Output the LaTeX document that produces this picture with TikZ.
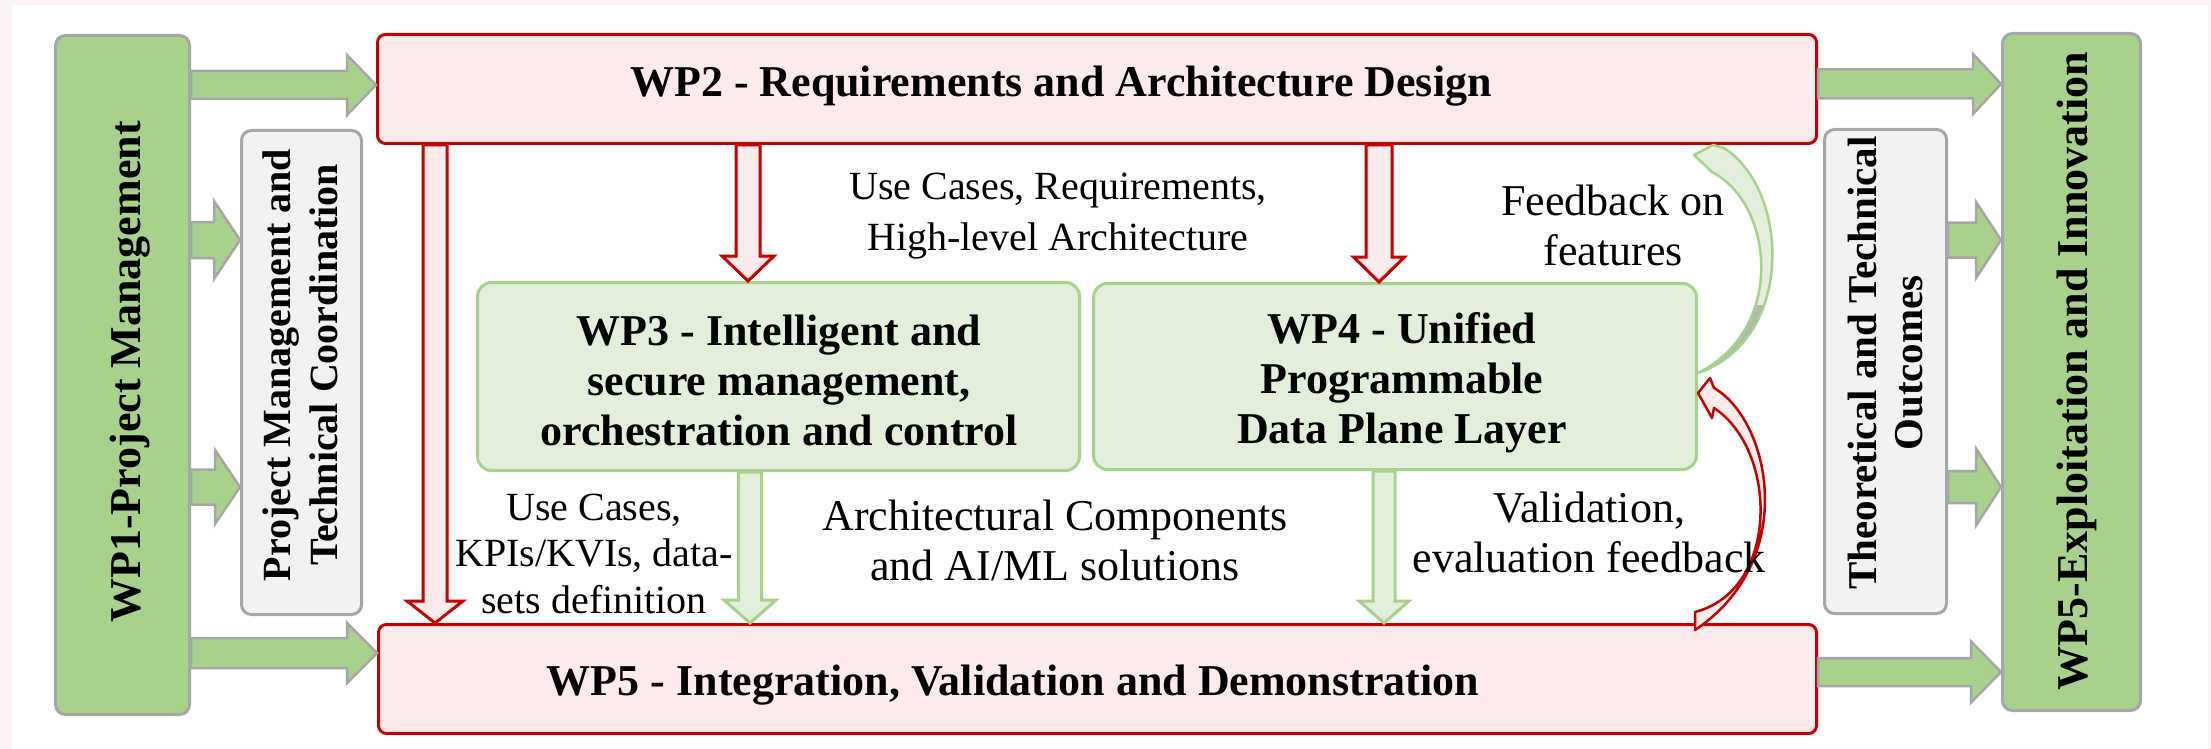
\documentclass[tikz,border=0pt]{standalone}
\usepackage{fontspec}
\setmainfont{Liberation Serif}
\usetikzlibrary{calc}
\definecolor{bgout}{HTML}{FAF5F4}
\definecolor{gfill}{HTML}{A9D18E}
\definecolor{gline}{HTML}{A6A6A6}
\definecolor{greyfill}{HTML}{F2F2F2}
\definecolor{redline}{HTML}{C00000}
\definecolor{pinkfill}{HTML}{FDEAEA}
\definecolor{lgfill}{HTML}{E2EFDA}
\definecolor{lgline}{HTML}{A9D18E}
\definecolor{shadeg}{HTML}{B3B8AE}
% horizontal block arrow: style, from, to, half shaft, half head, head length
\newcommand{\hblock}[6]{%
  \path[#1] let \p1=(#2), \p2=(#3) in
    (\x1,\y1+#4) -- (\x2-#6,\y1+#4) -- (\x2-#6,\y1+#5) -- (\x2,\y1)
    -- (\x2-#6,\y1-#5) -- (\x2-#6,\y1-#4) -- (\x1,\y1-#4) -- cycle;}
% downward block arrow
\newcommand{\vblock}[6]{%
  \path[#1] let \p1=(#2), \p2=(#3) in
    (\x1-#4,\y1) -- (\x1-#4,\y2+#6) -- (\x1-#5,\y2+#6) -- (\x1,\y2)
    -- (\x1+#5,\y2+#6) -- (\x1+#4,\y2+#6) -- (\x1+#4,\y1) -- cycle;}
\begin{document}
\begin{tikzpicture}[x=1pt,y=-1pt,
  box/.style={draw, line width=3pt, rounded corners=10pt, inner sep=0pt, anchor=north west},
  greenbox/.style={box, fill=gfill, draw=gline},
  greybox/.style={box, fill=greyfill, draw=gline},
  redbox/.style={box, fill=pinkfill, draw=redline, rounded corners=8pt},
  wpbox/.style={box, fill=lgfill, draw=lgline, rounded corners=14pt},
  garrow/.style={fill=gfill, draw=gline, line width=2.5pt},
  rarrow/.style={fill=pinkfill, draw=redline, line width=3pt},
  larrow/.style={fill=lgfill, draw=lgline, line width=3pt},
  ttl/.style={font=\fontsize{44}{50}\selectfont\bfseries, inner sep=0pt, align=center},
  ttlr/.style={font=\fontsize{40}{47}\selectfont\bfseries, inner sep=0pt, align=center},
  lab/.style={font=\fontsize{44}{50}\selectfont, inner sep=0pt, align=center},
  labs/.style={font=\fontsize{40}{51}\selectfont, inner sep=0pt, align=center},
  labt/.style={font=\fontsize{40}{46.5}\selectfont, inner sep=0pt, align=center}]
\fill[bgout] (0,0) rectangle (2211,749);
\fill[white] (12,5) rectangle (2208,749);
\useasboundingbox (0,0) rectangle (2211,749);
% boxes
\node[greenbox, minimum width=134pt, minimum height=679pt] (wp1) at (54,34) {};
\node[greybox, minimum width=120pt, minimum height=484pt] (pmtc) at (240,129) {};
\node[redbox, minimum width=1439pt, minimum height=109pt] (wp2) at (376,33) {};
\node[redbox, minimum width=1438pt, minimum height=109pt] (wp5) at (377,623) {};
\node[wpbox, minimum width=602pt, minimum height=188pt] (wp3) at (476,281) {};
\node[wpbox, minimum width=603pt, minimum height=186pt] (wp4) at (1092,282) {};
\node[greybox, minimum width=122pt, minimum height=484pt] (tto) at (1823,128) {};
\node[greenbox, minimum width=138pt, minimum height=677pt] (wp5e) at (2001,32) {};
% green block arrows
\hblock{garrow}{wp1.east |- 0,85}{wp2.west |- 0,85}{14pt}{30pt}{29pt}
\hblock{garrow}{wp1.east |- 0,240}{pmtc.west |- 0,240}{18pt}{39pt}{26pt}
\hblock{garrow}{wp1.east |- 0,487}{pmtc.west |- 0,487}{17.5pt}{37pt}{25pt}
\hblock{garrow}{wp1.east |- 0,653}{wp5.west |- 0,653}{15pt}{30pt}{30pt}
\hblock{garrow}{wp2.east |- 0,84}{wp5e.west |- 0,84}{14.5pt}{30pt}{28pt}
\hblock{garrow}{tto.east |- 0,240}{wp5e.west |- 0,240}{17.5pt}{38pt}{25pt}
\hblock{garrow}{tto.east |- 0,487}{wp5e.west |- 0,487}{16pt}{38.5pt}{25pt}
\hblock{garrow}{wp5.east |- 0,672}{wp5e.west |- 0,672}{14pt}{30.5pt}{30pt}
% red block arrows
\vblock{rarrow}{435,0 |- wp2.south}{435,0 |- wp5.north}{12pt}{28pt}{22pt}
\vblock{rarrow}{748,0 |- wp2.south}{748,0 |- wp3.north}{12pt}{26pt}{25pt}
\vblock{rarrow}{1379,0 |- wp2.south}{1379,0 |- wp4.north}{13pt}{25.5pt}{25pt}
% light green block arrows
\vblock{larrow}{750,0 |- wp3.south}{750,0 |- wp5.north}{11.5pt}{26pt}{23pt}
\vblock{larrow}{1384,0 |- wp4.south}{1384,0 |- wp5.north}{11pt}{25pt}{22pt}
% curved feedback arrow (green)
\coordinate (fbtail) at (wp4.east |- 0,373);
\coordinate (fbtip) at (1713,0 |- wp2.south);
\def\fbpath{(fbtip) -- (1694,155) -- (1712,172) .. controls (1775,205) and (1785,330) .. (fbtail) .. controls (1795,340) and (1790,190) .. (1724,148) -- cycle}
\fill[lgfill] \fbpath;
\begin{scope}
  \clip (1680,305) rectangle (1810,400);
  \fill[shadeg] \fbpath;
\end{scope}
\draw[lgline, line width=2.5pt, line join=round] \fbpath;
% curved validation arrow (red)
\coordinate (vftip) at (wp4.east |- 0,393);
\coordinate (vftail) at (1695,0 |- wp5.north);
\path[fill=pinkfill, draw=redline, line width=2.5pt, line join=round]
  (vftip) -- (1710,378) -- (1714,388) .. controls (1770,420) and (1800,560) .. ($(vftail)+(0,7)$)
  -- ($(vftail)+(0,-11)$) .. controls (1780,590) and (1778,450) .. (1714,408) -- (1712,418) -- cycle;
% texts
\node[ttl, rotate=90, anchor=base] (wp1t) at (140,372) {WP1-Project Management};
\node[ttlr, rotate=90, anchor=north] (pmtct) at (263,365) {Project Management and\\Technical Coordination};
\node[ttl, anchor=base] (wp2t) at (1061,97) {WP2 - Requirements and Architecture Design};
\node[ttl, anchor=base] (wp5t) at (1013,695) {WP5 - Integration, Validation and Demonstration};
\node[ttl, anchor=north] (wp3t) at (779,315) {WP3 - Intelligent and\\secure management,\\orchestration and control};
\node[ttl, anchor=north] (wp4t) at (1402,312) {WP4 - Unified\\Programmable\\Data Plane Layer};
\node[labs, anchor=north] (uct) at (1058,173) {Use Cases, Requirements,\\High-level Architecture};
\node[lab, anchor=north] (fbt) at (1613,185) {Feedback on\\features};
\node[lab, anchor=north] (act) at (1055,500) {Architectural Components\\and AI/ML solutions};
\node[labt, anchor=north] (uclt) at (594,493.5) {Use Cases,\\KPIs/KVIs, data-\\sets definition};
\node[lab, anchor=north] (vft) at (1589,492) {Validation,\\evaluation feedback};
\node[font=\fontsize{41}{46}\selectfont\bfseries, inner sep=0pt, align=center, rotate=90, anchor=north] (ttot) at (1848,363) {Theoretical and Technical\\Outcomes};
\node[ttl, rotate=90, anchor=base] (wp5et) at (2087,371) {WP5-Exploitation and Innovation};
\end{tikzpicture}
\end{document}
